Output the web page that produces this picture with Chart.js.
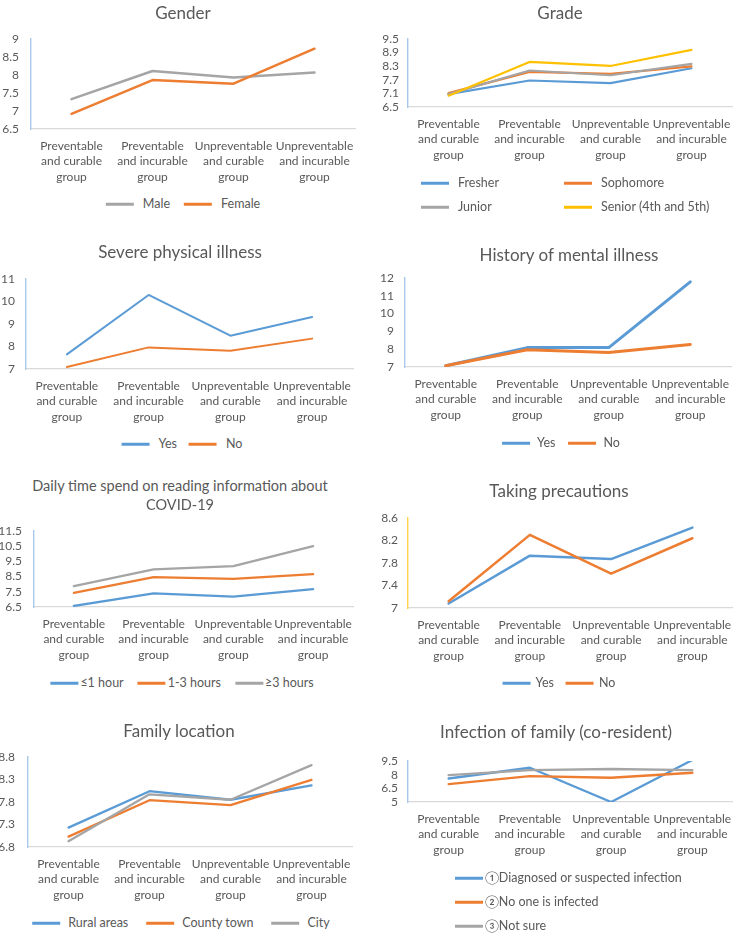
<!DOCTYPE html>
<html><head><meta charset="utf-8">
<script src="https://cdn.jsdelivr.net/npm/chart.js@4.4.1/dist/chart.umd.min.js"></script>
<style>
html,body{margin:0;padding:0;}
body{width:733px;height:934px;overflow:hidden;background:#fff;position:relative;font-family:Lato,'Open Sans',sans-serif;color:#595959;}
canvas.c{position:absolute;}
.t{position:absolute;transform:translate(-50%,-50%);white-space:nowrap;font-size:17px;line-height:1;}
.t.s{font-size:14.5px;}
.lg{position:absolute;display:flex;align-items:center;transform:translate(-50%,-50%);white-space:nowrap;font-size:12.5px;line-height:1;}
.li{position:absolute;display:flex;align-items:center;transform:translateY(-50%);white-space:nowrap;font-size:12.5px;line-height:1;}
.sw{display:inline-block;width:28px;height:3px;}
</style>
</head><body>
<script>
// ---------- DATA ----------
const categories = [
  ["Preventable", "and curable", "group"],
  ["Preventable", "and incurable", "group"],
  ["Unpreventable", "and curable", "group"],
  ["Unpreventable", "and incurable", "group"]
];

const genderTitle = "Gender";
const genderLabels = ["Male", "Female"];
const genderMale = [7.33, 8.11, 7.93, 8.07];
const genderFemale = [6.92, 7.86, 7.76, 8.73];
const genderTicks = [6.5, 7, 7.5, 8, 8.5, 9];

const gradeTitle = "Grade";
const gradeLabels = ["Fresher", "Sophomore", "Junior", "Senior (4th and 5th)"];
const gradeFresher = [7.07, 7.67, 7.55, 8.21];
const gradeSophomore = [7.11, 8.05, 7.96, 8.29];
const gradeJunior = [7.07, 8.11, 7.90, 8.40];
const gradeSenior = [7.00, 8.49, 8.31, 9.02];
const gradeTicks = [6.5, 7.1, 7.7, 8.3, 8.9, 9.5];

const severeTitle = "Severe physical illness";
const severeLabels = ["Yes", "No"];
const severeYes = [7.65, 10.29, 8.48, 9.31];
const severeNo = [7.09, 7.96, 7.81, 8.35];
const severeTicks = [7, 8, 9, 10, 11];

const mentalTitle = "History of mental illness";
const mentalLabels = ["Yes", "No"];
const mentalYes = [7.07, 8.09, 8.09, 11.78];
const mentalNo = [7.07, 7.97, 7.81, 8.27];
const mentalTicks = [7, 8, 9, 10, 11, 12];

const readingTitle = ["Daily time spend on reading information about", "COVID-19"];
const readingLabels = ["≤1 hour", "1-3 hours", "≥3 hours"];
const readingLow = [6.57, 7.40, 7.18, 7.67];
const readingMid = [7.43, 8.46, 8.35, 8.66];
const readingHigh = [7.87, 8.97, 9.19, 10.51];
const readingTicks = [6.5, 7.5, 8.5, 9.5, 10.5, 11.5];

const precTitle = "Taking precautions";
const precLabels = ["Yes", "No"];
const precYes = [7.08, 7.93, 7.87, 8.43];
const precNo = [7.12, 8.30, 7.61, 8.24];
const precTicks = [7, 7.4, 7.8, 8.2, 8.6];

const locTitle = "Family location";
const locLabels = ["Rural areas", "County town", "City"];
const locRural = [7.23, 8.04, 7.85, 8.17];
const locCounty = [7.03, 7.84, 7.73, 8.29];
const locCity = [6.93, 7.97, 7.85, 8.62];
const locTicks = [6.8, 7.3, 7.8, 8.3, 8.8];

const infTitle = "Infection of family (co-resident)";
const infLabels = ["①Diagnosed or suspected infection", "②No one is infected", "③Not sure"];
const infDiagnosed = [7.58, 8.76, 5.00, 9.61];
const infNone = [6.96, 7.84, 7.66, 8.21];
const infUnsure = [7.95, 8.50, 8.62, 8.50];
const infTicks = [5, 6.5, 8, 9.5];

// ---------- STYLE ----------
const BLUE = '#5B9BD5', ORANGE = '#ED7D31', GREY = '#A5A5A5', YELLOW = '#FFC000';
const FONT = "Lato, 'Open Sans', sans-serif";
const TXT = '#595959';
Chart.defaults.font.family = FONT;
Chart.defaults.color = TXT;

const YW = 45, XH = 60, PT = 26, PR = 30;

function addTitle(text, cx, cy, small) {
  const d = document.createElement('div');
  d.className = 't' + (small ? ' s' : '');
  d.style.left = cx + 'px'; d.style.top = cy + 'px';
  d.textContent = text;
  document.body.appendChild(d);
}

function swatch(color) {
  const s = document.createElement('span');
  s.className = 'sw'; s.style.background = color;
  return s;
}

function hLegend(labels, colors, cx, cy, gapIn, gapOut) {
  const d = document.createElement('div');
  d.className = 'lg';
  d.style.left = cx + 'px'; d.style.top = cy + 'px';
  labels.forEach((l, i) => {
    const sw = swatch(colors[i]);
    if (i > 0) sw.style.marginLeft = gapOut + 'px';
    d.appendChild(sw);
    const t = document.createElement('span');
    t.textContent = l; t.style.marginLeft = gapIn + 'px';
    d.appendChild(t);
  });
  document.body.appendChild(d);
}

function posLegend(labels, colors, positions, gapIn) {
  labels.forEach((l, i) => {
    const d = document.createElement('div');
    d.className = 'li';
    d.style.left = positions[i][0] + 'px'; d.style.top = positions[i][1] + 'px';
    d.appendChild(swatch(colors[i]));
    const t = document.createElement('span');
    t.textContent = l; t.style.marginLeft = gapIn + 'px';
    d.appendChild(t);
    document.body.appendChild(d);
  });
}

function makeChart(p) {
  const cv = document.createElement('canvas');
  cv.className = 'c';
  const left = p.L - YW, top = p.T - PT;
  const w = (p.R + PR) - left, h = (p.B + XH) - top;
  cv.width = w; cv.height = h;
  cv.style.left = left + 'px'; cv.style.top = top + 'px';
  cv.style.width = w + 'px'; cv.style.height = h + 'px';
  document.body.appendChild(cv);
  const n = p.series.length;
  const ticks = p.ticks;
  return new Chart(cv, {
    type: 'line',
    data: {
      labels: categories,
      datasets: p.series.map((s, i) => ({
        label: s.label, data: s.data,
        borderColor: s.color, backgroundColor: s.color,
        borderWidth: p.lw, pointRadius: 0, pointHoverRadius: 0,
        tension: 0, fill: false, order: n - i,
        borderJoinStyle: 'round', borderCapStyle: 'round'
      }))
    },
    options: {
      responsive: false, animation: false, devicePixelRatio: 1,
      layout: { padding: { top: PT, right: PR, left: 0, bottom: 0 } },
      plugins: { legend: { display: false }, title: { display: false }, tooltip: { enabled: false } },
      events: [],
      scales: {
        x: {
          type: 'category', offset: true,
          grid: { display: true, drawOnChartArea: false, drawTicks: false, color: 'rgba(0,0,0,0)' },
          border: { display: true, color: '#D9D9D9', width: 1.3 },
          ticks: { autoSkip: false, maxRotation: 0, minRotation: 0, padding: 9, color: TXT,
                   font: { family: FONT, size: 12, lineHeight: 1.3 } },
          afterFit: s => { s.height = XH; }
        },
        y: {
          min: ticks[0], max: ticks[ticks.length - 1],
          afterBuildTicks: s => { s.ticks = ticks.map(v => ({ value: v })); },
          grid: { display: true, drawOnChartArea: false, drawTicks: false, color: 'rgba(0,0,0,0)' },
          border: { display: true, color: p.axis || '#A9C8EC', width: 1.4 },
          ticks: { autoSkip: false, padding: p.pad, color: TXT, font: { family: FONT, size: 12 },
                   callback: v => String(v) },
          afterFit: s => { s.width = YW; }
        }
      }
    }
  });
}

// 1 Gender
makeChart({ L: 31, R: 355, T: 39, B: 129, ticks: genderTicks, pad: 12, lw: 2.5,
  series: [{ label: genderLabels[0], data: genderMale, color: GREY },
           { label: genderLabels[1], data: genderFemale, color: ORANGE }] });
addTitle(genderTitle, 183, 12);
hLegend(genderLabels, [GREY, ORANGE], 183, 204, 9, 14);

// 2 Grade
makeChart({ L: 408, R: 732, T: 39, B: 107, ticks: gradeTicks, pad: 9, lw: 2.2,
  series: [{ label: gradeLabels[0], data: gradeFresher, color: BLUE },
           { label: gradeLabels[1], data: gradeSophomore, color: ORANGE },
           { label: gradeLabels[2], data: gradeJunior, color: GREY },
           { label: gradeLabels[3], data: gradeSenior, color: YELLOW }] });
addTitle(gradeTitle, 560, 12);
posLegend(gradeLabels, [BLUE, ORANGE, GREY, YELLOW],
  [[421, 183], [564, 183], [421, 207], [564, 207]], 9);

// 3 Severe physical illness
makeChart({ L: 26, R: 353, T: 279, B: 369, ticks: severeTicks, pad: 11, lw: 2,
  series: [{ label: severeLabels[0], data: severeYes, color: BLUE },
           { label: severeLabels[1], data: severeNo, color: ORANGE }] });
addTitle(severeTitle, 180, 251);
hLegend(severeLabels, [BLUE, ORANGE], 182, 444, 9, 12);

// 4 History of mental illness
makeChart({ L: 405, R: 731, T: 278, B: 367, ticks: mentalTicks, pad: 11, lw: 3,
  series: [{ label: mentalLabels[0], data: mentalYes, color: BLUE },
           { label: mentalLabels[1], data: mentalNo, color: ORANGE }] });
addTitle(mentalTitle, 569, 254);
hLegend(mentalLabels, [BLUE, ORANGE], 561, 443, 7, 13);

// 5 Daily reading time
makeChart({ L: 34, R: 353, T: 531, B: 607, ticks: readingTicks, pad: 12, lw: 2.3,
  series: [{ label: readingLabels[0], data: readingLow, color: BLUE },
           { label: readingLabels[1], data: readingMid, color: ORANGE },
           { label: readingLabels[2], data: readingHigh, color: GREY }] });
addTitle(readingTitle[0], 180, 486, true);
addTitle(readingTitle[1], 180, 505, true);
hLegend(readingLabels, [BLUE, ORANGE, GREY], 182, 683, 2, 14);

// 6 Taking precautions
makeChart({ L: 408, R: 733, T: 518, B: 608, ticks: precTicks, pad: 10, lw: 2.5, axis: '#FFD24D',
  series: [{ label: precLabels[0], data: precYes, color: BLUE },
           { label: precLabels[1], data: precNo, color: ORANGE }] });
addTitle(precTitle, 559, 490);
hLegend(precLabels, [BLUE, ORANGE], 559, 683, 5, 12);

// 7 Family location
makeChart({ L: 28, R: 352, T: 757, B: 847, ticks: locTicks, pad: 13, lw: 2.3,
  series: [{ label: locLabels[0], data: locRural, color: BLUE },
           { label: locLabels[1], data: locCounty, color: ORANGE },
           { label: locLabels[2], data: locCity, color: GREY }] });
addTitle(locTitle, 179, 730);
hLegend(locLabels, [BLUE, ORANGE, GREY], 181, 923, 8, 18);

// 8 Infection of family
makeChart({ L: 408, R: 733, T: 761, B: 802, ticks: infTicks, pad: 10, lw: 2.3,
  series: [{ label: infLabels[0], data: infDiagnosed, color: BLUE },
           { label: infLabels[1], data: infNone, color: ORANGE },
           { label: infLabels[2], data: infUnsure, color: GREY }] });
addTitle(infTitle, 556, 731);
posLegend(infLabels, [BLUE, ORANGE, GREY], [[455, 878], [455, 902], [455, 926]], 2);
</script>
</body></html>
